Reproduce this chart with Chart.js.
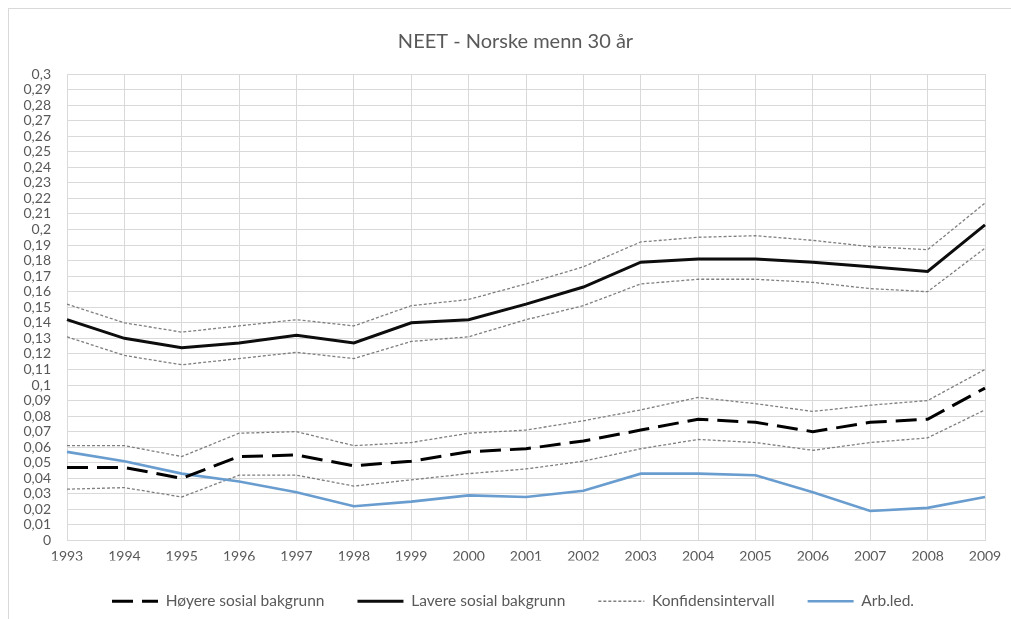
<!DOCTYPE html>
<html>
<head>
<meta charset="utf-8">
<script src="https://cdn.jsdelivr.net/npm/chart.js@4/dist/chart.umd.min.js"></script>
<style>
  html, body { margin: 0; padding: 0; background: #ffffff; }
  #wrap { position: relative; width: 1011px; height: 619px; overflow: hidden; }
  #frame { position: absolute; left: 8px; top: 8px; width: 1100px; height: 800px; border-left: 1px solid #d9d9d9; border-top: 1px solid #d9d9d9; }
  canvas { position: absolute; left: 0; top: 0; }
</style>
</head>
<body>
<div id="wrap">
  <div id="frame"></div>
  <canvas id="c" width="1011" height="619"></canvas>
</div>
<script>
const years = ['1993','1994','1995','1996','1997','1998','1999','2000','2001','2002','2003','2004','2005','2006','2007','2008','2009'];
const hoyere      = [0.047,0.047,0.040,0.054,0.055,0.048,0.051,0.057,0.059,0.064,0.071,0.078,0.076,0.070,0.076,0.078,0.098];
const hoyereUpper = [0.061,0.061,0.054,0.069,0.070,0.061,0.063,0.069,0.071,0.077,0.084,0.092,0.088,0.083,0.087,0.090,0.110];
const hoyereLower = [0.033,0.034,0.028,0.042,0.042,0.035,0.039,0.043,0.046,0.051,0.059,0.065,0.063,0.058,0.063,0.066,0.084];
const lavere      = [0.142,0.130,0.124,0.127,0.132,0.127,0.140,0.142,0.152,0.163,0.179,0.181,0.181,0.179,0.176,0.173,0.203];
const lavereUpper = [0.152,0.140,0.134,0.138,0.142,0.138,0.151,0.155,0.165,0.176,0.192,0.195,0.196,0.193,0.189,0.187,0.217];
const lavereLower = [0.131,0.119,0.113,0.117,0.121,0.117,0.128,0.131,0.142,0.151,0.165,0.168,0.168,0.166,0.162,0.160,0.188];
const arbLed      = [0.057,0.051,0.043,0.038,0.031,0.022,0.025,0.029,0.028,0.032,0.043,0.043,0.042,0.031,0.019,0.021,0.028];

const seriesNames = ['Høyere sosial bakgrunn','Lavere sosial bakgrunn','Konfidensintervall','Arb.led.'];
const titleText = 'NEET - Norske menn 30 år';

const FONT = 'Lato, "Open Sans", sans-serif';
const TXT = '#595959';
const GRID = '#d9d9d9';

const ciStyle = { borderColor: '#7f7f7f', borderWidth: 1.3, borderDash: [3, 2], pointRadius: 0, fill: false, tension: 0 };

const datasets = [
  { label: seriesNames[0], data: hoyere, borderColor: '#000000', borderWidth: 3, borderDash: [21, 9], pointRadius: 0, fill: false, tension: 0 },
  { label: seriesNames[1], data: lavere, borderColor: '#0d0d0d', borderWidth: 3, pointRadius: 0, fill: false, tension: 0 },
  Object.assign({ label: seriesNames[2], data: lavereUpper }, ciStyle),
  { label: seriesNames[3], data: arbLed, borderColor: '#6a9dcf', borderWidth: 2.6, pointRadius: 0, fill: false, tension: 0 },
  Object.assign({ label: seriesNames[2], data: lavereLower }, ciStyle),
  Object.assign({ label: seriesNames[2], data: hoyereUpper }, ciStyle),
  Object.assign({ label: seriesNames[2], data: hoyereLower }, ciStyle)
];

const boxShift = {
  id: 'boxShift',
  afterLayout(chart) {
    if (chart.titleBlock) { chart.titleBlock.left = 46; }
    if (chart.legend) { chart.legend.left -= 13; chart.legend.right -= 13; }
  }
};

new Chart(document.getElementById('c'), {
  type: 'line',
  data: { labels: years, datasets: datasets },
  plugins: [boxShift],
  options: {
    responsive: false,
    animation: false,
    devicePixelRatio: 1,
    layout: { padding: { left: 0, right: 26, top: 0, bottom: 0 } },
    plugins: {
      title: {
        display: true,
        text: titleText,
        color: TXT,
        font: { family: FONT, size: 20, weight: 'normal' },
        padding: { top: 30, bottom: 20 }
      },
      legend: {
        position: 'bottom',
        fullSize: false,
        labels: {
          usePointStyle: true,
          pointStyle: 'line',
          pointStyleWidth: 46,
          boxHeight: 14,
          padding: 33,
          color: TXT,
          font: { family: FONT, size: 15.5 },
          filter: (item) => item.datasetIndex < 4,
          generateLabels: (chart) => Chart.defaults.plugins.legend.labels.generateLabels(chart).map((l) => {
            const ds = chart.data.datasets[l.datasetIndex];
            l.lineDash = ds.borderDash || [];
            l.lineWidth = ds.borderWidth;
            l.strokeStyle = ds.borderColor;
            l.fillStyle = ds.borderColor;
            return l;
          })
        }
      },
      tooltip: { enabled: false }
    },
    scales: {
      x: {
        grid: { color: GRID, drawTicks: false },
        border: { color: GRID },
        ticks: { color: TXT, font: { family: FONT, size: 14 }, padding: 8, maxRotation: 0, autoSkip: false },
        afterFit: (s) => { s.height = 20; }
      },
      y: {
        min: 0,
        max: 0.3,
        grid: { color: GRID, drawTicks: false },
        border: { color: GRID },
        ticks: {
          stepSize: 0.01,
          autoSkip: false,
          color: TXT,
          padding: 16,
          font: { family: FONT, size: 14 },
          callback: (v) => String(Math.round(v * 100) / 100).replace('.', ',')
        },
        afterFit: (s) => { s.width = 67; }
      }
    }
  }
});
</script>
</body>
</html>
